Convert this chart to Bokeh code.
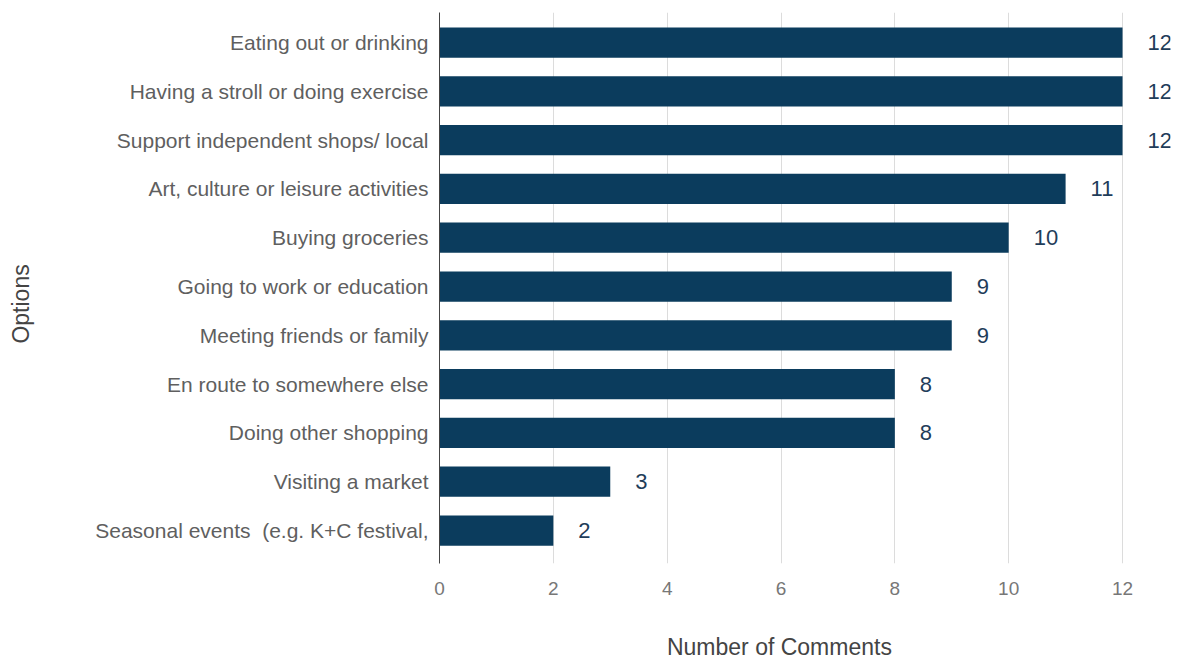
from bokeh.plotting import figure
from bokeh.models import ColumnDataSource, Range1d, FixedTicker, LabelSet
from bokeh.core.properties import value
from bokeh.embed import file_html
from bokeh.resources import INLINE

categories = [
    "Eating out or drinking",
    "Having a stroll or doing exercise",
    "Support independent shops/ local",
    "Art, culture or leisure activities",
    "Buying groceries",
    "Going to work or education",
    "Meeting friends or family",
    "En route to somewhere else",
    "Doing other shopping",
    "Visiting a market",
    "Seasonal events  (e.g. K+C festival,",
]
counts = [12, 12, 12, 11, 10, 9, 9, 8, 8, 3, 2]
x_ticks = [0, 2, 4, 6, 8, 10, 12]

n = len(categories)
pos = [n - 1 - i for i in range(n)]  # top item at highest position

src = ColumnDataSource(dict(cat=categories, val=counts, pos=pos,
                            txt=[str(v) for v in counts]))

FONT = "Liberation Sans"

p = figure(width=1178, height=662, output_backend="svg", toolbar_location=None,
           x_range=Range1d(0, 12.843), y_range=Range1d(-0.676, n - 1 + 0.615),
           min_border_left=439, min_border_right=8, min_border_top=12,
           min_border_bottom=99)
p.outline_line_color = None
p.background_fill_color = "white"

p.hbar(y="pos", right="val", left=0, height=0.62, source=src,
       fill_color="#0b3c5d", line_color=None)

labels = LabelSet(x="val", y="pos", text="txt", source=src, x_offset=25,
                  text_align="left", text_baseline="middle",
                  text_font=value(FONT), text_font_size="22px",
                  text_color="#1f3d5a")
p.add_layout(labels)

# x axis (title padded on the right so it centres over the 0-12 span)
p.xaxis.ticker = FixedTicker(ticks=x_ticks)
p.xaxis.axis_line_color = None
p.xaxis.major_tick_line_color = None
p.xaxis.minor_tick_line_color = None
p.xaxis.major_label_standoff = 12
p.xaxis.major_label_text_font = FONT
p.xaxis.major_label_text_font_size = "19px"
p.xaxis.major_label_text_color = "#777777"
p.xaxis.axis_label = "Number of Comments" + "\u00a0" * 8
p.xaxis.axis_label_text_font = FONT
p.xaxis.axis_label_text_font_size = "23px"
p.xaxis.axis_label_text_font_style = "normal"
p.xaxis.axis_label_text_color = "#444444"
p.xaxis.axis_label_standoff = 36

# y axis
p.yaxis.ticker = FixedTicker(ticks=pos)
p.yaxis.major_label_overrides = {pp: c.replace("  ", " \u00a0")
                                 for pp, c in zip(pos, categories)}
p.yaxis.axis_line_color = "#444444"
p.yaxis.major_tick_line_color = None
p.yaxis.minor_tick_line_color = None
p.yaxis.major_label_standoff = 5
p.yaxis.major_label_text_font = FONT
p.yaxis.major_label_text_font_size = "21px"
p.yaxis.major_label_text_color = "#5f5f5f"
p.yaxis.axis_label = "Options" + "\u00a0" * 5
p.yaxis.axis_label_text_font = FONT
p.yaxis.axis_label_text_font_size = "23px"
p.yaxis.axis_label_text_font_style = "normal"
p.yaxis.axis_label_text_color = "#444444"
p.yaxis.axis_label_standoff = 58

p.xgrid.ticker = FixedTicker(ticks=x_ticks)
p.xgrid.grid_line_color = "#dcdcdc"
p.ygrid.grid_line_color = None

open("out.html", "w").write(file_html(p, INLINE))
